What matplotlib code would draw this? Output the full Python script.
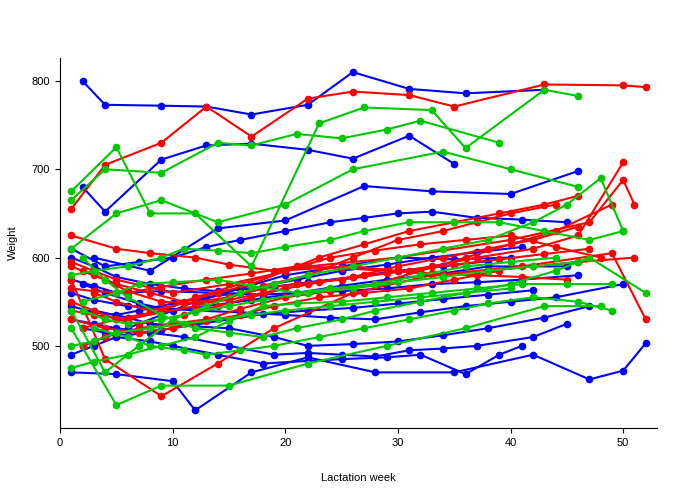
import matplotlib
matplotlib.use("Agg")
import matplotlib.pyplot as plt

plt.rcParams['font.family'] = ['Liberation Sans', 'DejaVu Sans']

# weekly weights per cow (week, weight)
blue_cows = [
    [(2, 800), (4, 773), (9, 772), (13, 771), (17, 762), (22, 773), (26, 810), (31, 791), (36, 786), (43, 790)],
    [(1, 470), (5, 468), (10, 460), (12, 427), (17, 470), (22, 487), (28, 470), (35, 470), (42, 490), (47, 462), (50, 472), (52, 503)],
    [(2, 680), (4, 652), (9, 711), (13, 727), (17, 729), (22, 722), (26, 712), (31, 738), (35, 706)],
    [(3, 600), (8, 585), (14, 633), (20, 642), (27, 681), (33, 675), (40, 672), (46, 698)],
    [(1, 530), (3, 525), (5, 520), (8, 515), (11, 510), (15, 500), (19, 490), (22, 492), (25, 490), (28, 488), (31, 495), (34, 497), (37, 500), (42, 510), (45, 525)],
    [(1, 560), (3, 552), (6, 545), (9, 543), (12, 540), (16, 538), (20, 535), (24, 532), (28, 530), (32, 538), (36, 545), (40, 550), (44, 555), (50, 570)],
    [(1, 610), (4, 590), (7, 595), (10, 600), (13, 612), (16, 620), (20, 630), (24, 640), (27, 645), (30, 650), (33, 652), (37, 645), (41, 643), (45, 640)],
    [(2, 500), (4, 510), (6, 520), (9, 535), (12, 550), (16, 565), (20, 580), (25, 590), (30, 600), (35, 598), (40, 600)],
    [(1, 490), (3, 500), (5, 510), (8, 505), (10, 500), (14, 490), (18, 480), (22, 483), (25, 485), (29, 487), (32, 490), (36, 468), (39, 490), (41, 500)],
    [(1, 575), (3, 568), (5, 560), (9, 562), (14, 560), (18, 558), (21, 560), (25, 568), (29, 575), (34, 582), (38, 590), (45, 590)],
    [(3, 540), (6, 532), (8, 525), (12, 522), (15, 520), (19, 510), (22, 500), (26, 502), (30, 505), (34, 512), (38, 520), (43, 532), (47, 545)],
    [(1, 545), (3, 538), (5, 535), (7, 540), (10, 548), (13, 555), (16, 560), (19, 567), (22, 572), (26, 578), (30, 585), (34, 590), (38, 596)],
    [(2, 520), (4, 515), (6, 512), (9, 518), (12, 524), (15, 530), (18, 536), (22, 540), (26, 543), (30, 548), (34, 553), (38, 558), (42, 563)],
    [(1, 600), (3, 590), (5, 578), (8, 570), (11, 565), (14, 562), (17, 565), (21, 575), (25, 585), (29, 592), (33, 600), (37, 606), (41, 612)],
    [(2, 570), (4, 560), (7, 548), (10, 540), (13, 545), (17, 552), (21, 560), (25, 562), (29, 565), (33, 570), (37, 572), (41, 575), (46, 580)],
]
red_cows = [
    [(1, 655), (4, 705), (9, 730), (13, 771), (17, 737), (22, 780), (26, 788), (31, 784), (35, 771), (43, 796), (50, 795), (52, 793)],
    [(1, 595), (5, 575), (10, 560), (15, 570), (22, 590), (30, 600), (40, 620), (47, 640), (50, 688), (51, 660)],
    [(1, 575), (4, 485), (9, 443), (14, 480), (19, 520), (26, 560), (33, 580), (41, 590), (49, 605), (52, 530)],
    [(1, 540), (3, 535), (6, 530), (9, 538), (12, 545), (15, 555), (18, 565), (21, 570), (25, 575), (29, 582), (33, 590), (37, 600), (42, 610), (46, 625), (50, 708)],
    [(2, 500), (4, 510), (7, 520), (10, 525), (13, 530), (16, 542), (20, 555), (24, 562), (28, 570), (32, 585), (36, 600), (40, 615), (44, 630), (49, 660)],
    [(1, 590), (3, 580), (5, 570), (8, 560), (11, 550), (14, 560), (17, 570), (20, 585), (24, 600), (28, 608), (32, 615), (36, 620), (40, 625), (44, 612), (48, 600)],
    [(3, 560), (5, 550), (8, 540), (11, 548), (15, 555), (18, 568), (22, 580), (26, 600), (30, 620), (34, 630), (37, 640), (40, 650), (44, 660)],
    [(1, 625), (5, 610), (8, 605), (12, 600), (15, 592), (19, 585), (23, 588), (26, 590), (30, 585), (34, 580), (38, 585), (42, 590), (46, 595), (51, 600)],
    [(2, 520), (5, 530), (9, 540), (12, 555), (16, 570), (20, 585), (23, 600), (27, 615), (31, 630), (35, 640), (39, 650), (43, 660), (46, 670)],
    [(1, 565), (3, 562), (6, 560), (9, 567), (13, 575), (17, 582), (21, 590), (25, 588), (29, 585), (33, 582), (37, 580), (41, 578), (45, 575)],
    [(1, 550), (3, 540), (5, 530), (7, 525), (9, 530), (11, 535), (14, 545), (17, 555), (20, 565), (23, 572), (27, 580), (31, 585), (35, 592), (39, 598), (43, 604), (47, 610)],
    [(2, 585), (4, 575), (6, 562), (9, 550), (12, 548), (15, 552), (18, 560), (22, 570), (26, 578), (30, 590), (34, 600), (38, 610), (42, 620), (46, 635)],
    [(1, 530), (4, 520), (7, 515), (10, 520), (13, 528), (16, 535), (19, 545), (23, 555), (27, 560), (31, 565), (35, 575), (39, 585)],
]
green_cows = [
    [(1, 665), (4, 700), (9, 696), (14, 730), (17, 727), (21, 740), (25, 735), (29, 745), (32, 755), (39, 730)],
    [(1, 675), (5, 725), (8, 650), (12, 650), (17, 590), (23, 752), (27, 770), (33, 767), (36, 724), (43, 790), (46, 783)],
    [(1, 520), (5, 433), (9, 455), (15, 455), (22, 480), (29, 500), (36, 520), (43, 545), (48, 545)],
    [(1, 540), (4, 470), (7, 500), (10, 530), (13, 545), (16, 560), (19, 570), (22, 580), (26, 590), (30, 600), (34, 610), (38, 620), (42, 640), (45, 660), (48, 690), (50, 630)],
    [(2, 600), (4, 575), (6, 555), (9, 535), (12, 520), (15, 515), (18, 510), (21, 520), (25, 530), (28, 540), (32, 550), (36, 560), (40, 570), (44, 585), (47, 600), (52, 560)],
    [(1, 610), (5, 650), (9, 665), (14, 640), (20, 660), (26, 700), (34, 720), (40, 700), (46, 680)],
    [(3, 520), (6, 510), (8, 500), (11, 495), (13, 490), (16, 495), (19, 500), (23, 510), (27, 520), (31, 530), (35, 540), (38, 548), (42, 555), (46, 550), (49, 540)],
    [(1, 580), (3, 585), (6, 590), (9, 600), (11, 610), (14, 608), (17, 605), (20, 612), (24, 620), (27, 630), (31, 640), (35, 640), (39, 640), (43, 630), (47, 620), (50, 630)],
    [(2, 550), (5, 560), (7, 570), (10, 572), (14, 575), (17, 568), (21, 560), (24, 565), (28, 570), (32, 580), (36, 590), (40, 595), (44, 600)],
    [(1, 475), (3, 482), (6, 490), (9, 500), (12, 510), (15, 528), (18, 545), (21, 548), (25, 550), (29, 555), (33, 560), (37, 565), (41, 570), (45, 570), (49, 570)],
    [(1, 500), (3, 505), (5, 515), (8, 520), (11, 525), (14, 530), (17, 535), (20, 540), (24, 545), (28, 550), (32, 555), (36, 560), (40, 565)],
    [(2, 540), (4, 530), (6, 525), (9, 530), (12, 538), (15, 545), (18, 552), (22, 560), (26, 565), (30, 572), (34, 578), (38, 585), (42, 590), (46, 595)],
]

fig = plt.figure(figsize=(6.87, 4.99), dpi=100)
ax = fig.add_axes([60 / 687, 71 / 499, 597 / 687, 370 / 499])

for cows, col in [(blue_cows, "#0000ff"), (red_cows, "#ff0000"), (green_cows, "#00c800")]:
    for cow in cows:
        wk = [p[0] for p in cow]
        wt = [p[1] for p in cow]
        ax.plot(wk, wt, color=col, lw=1.5, marker="o", ms=4.5)

ax.set_xlim(0, 53)
ax.set_ylim(407, 826)
ax.set_xticks([0, 10, 20, 30, 40, 50])
ax.set_yticks([500, 600, 700, 800])
ax.spines["top"].set_visible(False)
ax.spines["right"].set_visible(False)
ax.tick_params(labelsize=8)
ax.set_xlabel("Lactation week", fontsize=8, labelpad=18)
ax.set_ylabel("Weight", fontsize=8, labelpad=10)

fig.savefig("out.png")
